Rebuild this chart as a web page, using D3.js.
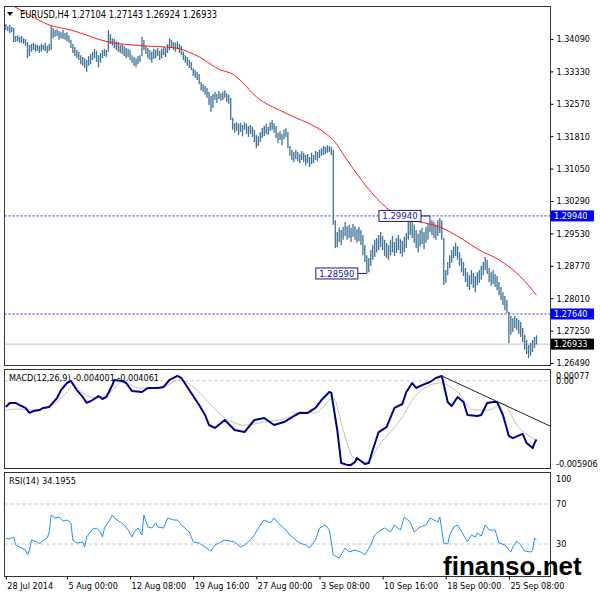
<!DOCTYPE html>
<html>
<head>
<meta charset="utf-8">
<script src="https://cdn.jsdelivr.net/npm/d3@7"></script>
<style>
body{margin:0;background:#fff;}
svg{display:block;font-family:"DejaVu Sans Condensed","DejaVu Sans",sans-serif;}
</style>
</head>
<body>
<svg id="chart" width="600" height="597"></svg>
<script>

// EURUSD H4 bars, one entry per bar (28 Jul 20:00 .. 29 Sep)
const barHigh = [
1.3444,1.3439,1.3442,1.3437,1.3435,1.3416,1.3418,1.3414,1.3416,1.3411,
1.3409,1.3402,1.3395,1.3397,1.3400,1.3397,1.3395,1.3393,1.3397,1.3395,
1.3400,1.3393,1.3397,1.3442,1.3435,1.3430,1.3432,1.3428,1.3425,1.3430,
1.3423,1.3425,1.3418,1.3407,1.3397,1.3390,1.3383,1.3379,1.3371,1.3367,
1.3364,1.3360,1.3369,1.3374,1.3379,1.3386,1.3381,1.3371,1.3376,1.3383,
1.3386,1.3383,1.3430,1.3421,1.3411,1.3409,1.3404,1.3402,1.3395,1.3397,
1.3393,1.3388,1.3386,1.3383,1.3371,1.3367,1.3364,1.3369,1.3371,1.3414,
1.3407,1.3393,1.3388,1.3383,1.3379,1.3386,1.3383,1.3388,1.3381,1.3386,
1.3390,1.3388,1.3397,1.3411,1.3407,1.3402,1.3400,1.3404,1.3397,1.3393,
1.3379,1.3371,1.3367,1.3360,1.3355,1.3341,1.3336,1.3332,1.3327,1.3308,
1.3303,1.3299,1.3294,1.3285,1.3275,1.3280,1.3285,1.3280,1.3287,1.3282,
1.3285,1.3289,1.3282,1.3278,1.3271,1.3224,1.3212,1.3214,1.3210,1.3212,
1.3207,1.3214,1.3210,1.3205,1.3207,1.3203,1.3196,1.3184,1.3181,1.3191,
1.3200,1.3205,1.3210,1.3203,1.3214,1.3219,1.3212,1.3205,1.3189,1.3193,
1.3186,1.3196,1.3200,1.3191,1.3158,1.3149,1.3144,1.3149,1.3144,1.3139,
1.3146,1.3142,1.3137,1.3139,1.3132,1.3142,1.3137,1.3146,1.3144,1.3149,
1.3153,1.3158,1.3156,1.3160,1.3158,1.3156,1.3149,1.2984,1.2956,1.2966,
1.2961,1.2968,1.2980,1.2970,1.2973,1.2966,1.2975,1.2970,1.2963,1.2968,
1.2961,1.2949,1.2926,1.2902,1.2895,1.2914,1.2926,1.2938,1.2942,1.2949,
1.2956,1.2947,1.2938,1.2931,1.2926,1.2938,1.2947,1.2933,1.2942,1.2949,
1.2940,1.2935,1.2945,1.2954,1.2980,1.2991,1.2984,1.2973,1.2961,1.2952,
1.2961,1.2966,1.2956,1.2968,1.2975,1.2994,1.2984,1.2980,1.2973,1.2984,
1.2989,1.2984,1.2942,1.2867,1.2886,1.2902,1.2914,1.2923,1.2931,1.2923,
1.2909,1.2895,1.2886,1.2872,1.2862,1.2855,1.2867,1.2860,1.2853,1.2862,
1.2867,1.2877,1.2886,1.2898,1.2891,1.2872,1.2862,1.2867,1.2858,1.2853,
1.2839,1.2827,1.2815,1.2806,1.2797,1.2769,1.2759,1.2754,1.2759,1.2754,
1.2750,1.2745,1.2731,1.2715,1.2703,1.2691,1.2696,1.2703,1.2710,1.27143
];
const barLow = [
1.3430,1.3428,1.3423,1.3425,1.3402,1.3402,1.3404,1.3400,1.3400,1.3397,
1.3393,1.3364,1.3369,1.3379,1.3383,1.3379,1.3381,1.3376,1.3379,1.3383,
1.3381,1.3376,1.3381,1.3383,1.3411,1.3414,1.3416,1.3407,1.3411,1.3409,
1.3407,1.3404,1.3400,1.3388,1.3376,1.3369,1.3364,1.3360,1.3350,1.3346,
1.3341,1.3332,1.3346,1.3350,1.3360,1.3364,1.3355,1.3343,1.3353,1.3364,
1.3369,1.3367,1.3379,1.3397,1.3393,1.3388,1.3383,1.3379,1.3376,1.3374,
1.3369,1.3364,1.3367,1.3360,1.3353,1.3346,1.3343,1.3350,1.3355,1.3369,
1.3383,1.3374,1.3364,1.3360,1.3353,1.3362,1.3364,1.3369,1.3360,1.3364,
1.3371,1.3367,1.3376,1.3383,1.3388,1.3383,1.3379,1.3386,1.3376,1.3371,
1.3360,1.3353,1.3346,1.3341,1.3336,1.3322,1.3318,1.3313,1.3303,1.3289,
1.3285,1.3278,1.3271,1.3254,1.3238,1.3247,1.3266,1.3259,1.3268,1.3264,
1.3266,1.3271,1.3261,1.3257,1.3219,1.3196,1.3189,1.3193,1.3184,1.3191,
1.3181,1.3196,1.3186,1.3179,1.3186,1.3179,1.3167,1.3153,1.3158,1.3167,
1.3177,1.3181,1.3186,1.3184,1.3193,1.3196,1.3189,1.3177,1.3165,1.3172,
1.3160,1.3174,1.3179,1.3153,1.3135,1.3125,1.3120,1.3127,1.3123,1.3118,
1.3125,1.3120,1.3113,1.3118,1.3109,1.3116,1.3118,1.3125,1.3123,1.3130,
1.3135,1.3137,1.3139,1.3142,1.3144,1.3137,1.2973,1.2919,1.2921,1.2933,
1.2926,1.2938,1.2947,1.2938,1.2942,1.2933,1.2945,1.2938,1.2931,1.2935,
1.2926,1.2902,1.2886,1.2859,1.2862,1.2877,1.2891,1.2898,1.2909,1.2914,
1.2921,1.2914,1.2900,1.2895,1.2891,1.2902,1.2909,1.2900,1.2907,1.2914,
1.2905,1.2898,1.2909,1.2919,1.2938,1.2949,1.2942,1.2931,1.2919,1.2909,
1.2923,1.2928,1.2916,1.2931,1.2938,1.2956,1.2949,1.2942,1.2938,1.2947,
1.2954,1.2938,1.2832,1.2837,1.2855,1.2872,1.2884,1.2895,1.2900,1.2891,
1.2877,1.2862,1.2853,1.2839,1.2827,1.2820,1.2834,1.2825,1.2815,1.2832,
1.2837,1.2844,1.2855,1.2867,1.2858,1.2839,1.2830,1.2834,1.2827,1.2820,
1.2808,1.2797,1.2785,1.2773,1.2766,1.2696,1.2715,1.2722,1.2731,1.2726,
1.2717,1.2710,1.2698,1.2680,1.2670,1.2661,1.2666,1.2675,1.2684,1.26924
];

// moving average (red)
const maBars = [0,4,12,22,33,52,70,86,98,109,114,129,142,163,166,173,183,193,206,220,232,240,250,261,269];
const maValues = [1.3497,1.3486,1.3465,1.3442,1.3430,1.3402,1.3393,1.3388,1.3367,1.3336,1.3329,1.3266,1.3235,
  1.3184,1.3172,1.3125,1.3062,1.3013,1.2985,1.2968,1.2938,1.2914,1.2891,1.2851,1.2808];

// MACD(12,26,9)
const macdBars = [0,2,5,7,10,12,14,17,19,22, 26,28,31,33,36,39,41,44,47,49,
  51,54,55,59,61,64,69,72,77,80, 83,87,89,93,98,101,103,106,111,116,
  121,126,131,136,141,147,149,153,157,160, 164,165,168,170,173,175,177,178,180,182,
  184,186,189,193,197,201,203,206,208,211, 215,218,221,224,226,229,232,234,239,241,
  244,247,249,252,255,257,262,264,267,268, 269];
const macdMain = [-0.00178,-0.00151,-0.00151,-0.00165,-0.00185,-0.00219,-0.00206,-0.00199,-0.00185,-0.00178,
  -0.00117,-0.00063,-0.00015,-0.00001,-0.00063,-0.00110,-0.00151,-0.00131,-0.00104,-0.00124,
  -0.00110,-0.00029,0.00006,-0.00001,-0.00015,-0.00070,-0.00076,-0.00049,-0.00049,-0.00042,
  0.00006,0.00033,0.00019,-0.00063,-0.00165,-0.00233,-0.00301,-0.00321,-0.00267,-0.00335,
  -0.00349,-0.00267,-0.00253,-0.00301,-0.00281,-0.00233,-0.00219,-0.00219,-0.00185,-0.00131,
  -0.00076,-0.00083,-0.00335,-0.00560,-0.00573,-0.00573,-0.00553,-0.00526,-0.00546,-0.00567,
  -0.00560,-0.00471,-0.00349,-0.00315,-0.00185,-0.00158,-0.00076,-0.00015,-0.00049,-0.00029,
  -0.00008,0.00019,0.00033,-0.00144,-0.00172,-0.00110,-0.00144,-0.00233,-0.00240,-0.00233,
  -0.00151,-0.00144,-0.00144,-0.00233,-0.00376,-0.00390,-0.00362,-0.00424,-0.00458,-0.00424,
  -0.004001];
const signalBars = [0,7,14,22,31,34,39,46,53,59, 68,78,88,95,104,111,121,131,144,149,
  157,166,171,176,183,190,200,208,220,229, 237,245,252,259,269];
const signalValues = [-0.00199,-0.00192,-0.00199,-0.00178,-0.00076,-0.00029,-0.00083,-0.00117,-0.00076,-0.00008,
  -0.00049,-0.00049,0.00006,-0.00042,-0.00165,-0.00253,-0.00301,-0.00281,-0.00246,-0.00212,
  -0.00219,-0.00117,-0.00335,-0.00519,-0.00553,-0.00424,-0.00267,-0.00097,-0.00015,-0.00076,
  -0.00199,-0.00199,-0.00151,-0.00301,-0.004061];
// trend line drawn on the MACD window
const trendBars = [221, 275.8];
const trendValues = [0.00033, -0.00308];

// RSI(14)
const rsiBars = [0,2,4,5,7,10,11,12,13,16, 17,19,21,22,23,25,27,29,31,33,
  34,36,39,40,41,44,46,48,49,50, 52,54,55,58,60,62,64,65,67,69,
  70,72,74,76,77,80,82,85,87,89, 92,93,95,98,101,104,106,111,116,119,
  121,124,126,129,131,134,136,139,142,144, 147,149,152,154,157,159,162,164,166,169,
  172,174,177,180,182,185,187,190,192,195, 197,200,202,205,207,210,213,215,217,219,
  220,222,224,225,227,229,230,232,234,236, 238,239,241,243,245,248,250,253,256,257,
  259,261,263,266,267,268,269];
const rsiValues = [36,35,37,29,27,24,19,24,34,32, 30,34,36,42,59,56,57,53,54,51,
  34,31,32,27,37,45,46,42,37,46, 52,59,56,52,49,44,37,42,46,39,
  59,47,46,51,47,46,56,54,54,49, 44,42,32,31,27,23,29,34,32,27,
  29,34,39,49,54,51,56,49,44,39, 34,31,29,26,34,46,49,44,19,16,
  26,22,24,22,19,29,39,44,46,42, 49,44,57,52,42,47,49,56,54,52,
  57,31,30,39,47,49,46,39,32,39, 37,41,38,49,44,44,31,29,22,27,
  33,29,23,22,23,36,34.2];

const priceTicks = [1.3409,1.3333,1.3257,1.3181,1.3105,1.3029,1.2953,1.2877,1.2801,1.2725,1.2649];
const levelPrices = [1.2994, 1.2764];
const lastPrice = 1.26933;
const markBars = [215, 183];
const markPrices = [1.2994, 1.2859];
const timeBars = [0,31,63,95,127,159,191,223,255];
const timeLabels = ["28 Jul 2014","5 Aug 00:00","12 Aug 08:00","19 Aug 16:00","27 Aug 00:00",
  "3 Sep 08:00","10 Sep 16:00","18 Sep 00:00","25 Sep 08:00"];
const rsiLevels = [70, 30];

const svg = d3.select("#chart");
const left = 4.5, right = 550.5;
const mainP = {top: 6.5, bottom: 365.5};
const macdP = {top: 369.5, bottom: 468.5};
const rsiP = {top: 472.5, bottom: 576.5};

const x = d3.scaleLinear().domain([0, 269]).range([5.8, 536.5]);
const y = d3.scaleLinear().domain([1.26443, 1.34864]).range([365, 6]);
const yM = d3.scaleLinear().domain([-0.005906, 0.00077]).range([467.5, 369.5]);
const yR = d3.scaleLinear().domain([0, 100]).range([574, 474]);

// clip paths
const defs = svg.append("defs");
[["cMain", mainP], ["cMacd", macdP], ["cRsi", rsiP]].forEach(([id, p]) => {
    defs.append("clipPath").attr("id", id)
        .append("rect")
        .attr("x", left).attr("y", p.top)
        .attr("width", right - left).attr("height", p.bottom - p.top);
});

// panel frames
[mainP, macdP, rsiP].forEach(p => {
    svg.append("rect")
        .attr("x", left).attr("y", p.top)
        .attr("width", right - left).attr("height", p.bottom - p.top)
        .attr("fill", "#fff")
        .attr("stroke", "#333")
        .attr("stroke-width", 1);
});

// ---------- main window ----------
const gMain = svg.append("g").attr("clip-path", "url(#cMain)");

gMain.append("line")
    .attr("x1", left).attr("x2", right)
    .attr("y1", y(lastPrice)).attr("y2", y(lastPrice))
    .attr("stroke", "#c0c0c0");

gMain.selectAll(".level")
    .data(levelPrices)
    .enter()
    .append("line")
    .attr("x1", left).attr("x2", right)
    .attr("y1", d => y(d)).attr("y2", d => y(d))
    .attr("stroke", "#2a2aff")
    .attr("stroke-dasharray", "2,2");

gMain.selectAll(".bar")
    .data(barHigh)
    .enter()
    .append("line")
    .attr("x1", (d, i) => x(i)).attr("x2", (d, i) => x(i))
    .attr("y1", d => y(d))
    .attr("y2", (d, i) => y(barLow[i]))
    .attr("stroke", "#44769a")
    .attr("stroke-width", 1.35);

gMain.append("path")
    .datum(maBars.map((b, i) => [b, maValues[i]]))
    .attr("fill", "none")
    .attr("stroke", "#ff1a1a")
    .attr("stroke-width", 1)
    .attr("d", d3.line().x(d => x(d[0])).y(d => y(d[1])).curve(d3.curveMonotoneX));

// price marks with boxes
markBars.forEach((b, i) => {
    const bx = x(b), by = y(markPrices[i]);
    gMain.append("line")
        .attr("x1", bx - 9).attr("x2", bx)
        .attr("y1", by).attr("y2", by)
        .attr("stroke", "#1a1a80");
    gMain.append("rect")
        .attr("x", bx - 51).attr("y", by - 5.5)
        .attr("width", 42).attr("height", 11)
        .attr("fill", "#fff")
        .attr("stroke", "#1a1a80");
    gMain.append("text")
        .attr("x", bx - 30).attr("y", by)
        .attr("dy", "0.36em")
        .attr("text-anchor", "middle")
        .attr("font-size", 9.5)
        .attr("fill", "#1a1a80")
        .text(d3.format(".5f")(markPrices[i]));
});

// header
svg.append("path")
    .attr("d", "M7,12 L13,12 L10,16 Z")
    .attr("fill", "#000");
svg.append("text")
    .attr("x", 20).attr("y", 14.5)
    .attr("dy", "0.35em")
    .attr("font-size", 10)
    .attr("textLength", 197)
    .attr("lengthAdjust", "spacingAndGlyphs")
    .text("EURUSD,H4  1.27104 1.27143 1.26924 1.26933");

// price axis
svg.append("g")
    .attr("transform", `translate(${right},0)`)
    .call(d3.axisRight(y).tickValues(priceTicks).tickSize(3).tickPadding(3).tickFormat(d3.format(".5f")))
    .call(g => g.select(".domain").remove())
    .call(g => g.selectAll("text").attr("font-size", 9).attr("font-family", null).attr("fill", "#000"))
    .call(g => g.attr("font-family", null));

// level tags
levelPrices.forEach(p => {
    svg.append("rect")
        .attr("x", 551).attr("y", y(p) - 5.5)
        .attr("width", 43).attr("height", 11)
        .attr("fill", "#0000ff");
    svg.append("text")
        .attr("x", 554).attr("y", y(p)).attr("dy", "0.36em")
        .attr("font-size", 9).attr("fill", "#fff")
        .text(d3.format(".5f")(p));
});
svg.append("rect")
    .attr("x", 551).attr("y", y(lastPrice) - 5.5)
    .attr("width", 43).attr("height", 11)
    .attr("fill", "#000");
svg.append("text")
    .attr("x", 554).attr("y", y(lastPrice)).attr("dy", "0.36em")
    .attr("font-size", 9).attr("fill", "#fff")
    .text(d3.format(".5f")(lastPrice));

// ---------- MACD window ----------
const gMacd = svg.append("g").attr("clip-path", "url(#cMacd)");

gMacd.append("line")
    .attr("x1", left).attr("x2", right)
    .attr("y1", yM(0)).attr("y2", yM(0))
    .attr("stroke", "#c0c0c0")
    .attr("stroke-dasharray", "3,3");

gMacd.append("path")
    .datum(signalBars.map((b, i) => [b, signalValues[i]]))
    .attr("fill", "none")
    .attr("stroke", "#c0c0c0")
    .attr("stroke-width", 1)
    .attr("d", d3.line().x(d => x(d[0])).y(d => yM(d[1])).curve(d3.curveMonotoneX));

gMacd.append("path")
    .datum(macdBars.map((b, i) => [b, macdMain[i]]))
    .attr("fill", "none")
    .attr("stroke", "#00008b")
    .attr("stroke-width", 2)
    .attr("stroke-linejoin", "round")
    .attr("d", d3.line().x(d => x(d[0])).y(d => yM(d[1])));

gMacd.append("line")
    .attr("x1", x(trendBars[0])).attr("x2", x(trendBars[1]))
    .attr("y1", yM(trendValues[0])).attr("y2", yM(trendValues[1]))
    .attr("stroke", "#222")
    .attr("stroke-width", 1);

svg.append("text")
    .attr("x", 9).attr("y", 378).attr("dy", "0.35em")
    .attr("font-size", 9.5)
    .attr("textLength", 150)
    .attr("lengthAdjust", "spacingAndGlyphs")
    .text("MACD(12,26,9) -0.004001 -0.004061");

// the two top labels sit on top of each other in the original
const macdLabels = [[375.5, "0.00077"], [yM(0), "0.00"], [464, "-0.005906"]];
macdLabels.forEach(([ly, t]) => {
    svg.append("text")
        .attr("x", 556).attr("y", ly).attr("dy", "0.35em")
        .attr("font-size", 9)
        .text(t);
});

// ---------- RSI window ----------
const gRsi = svg.append("g").attr("clip-path", "url(#cRsi)");

gRsi.selectAll(".lvl")
    .data(rsiLevels)
    .enter()
    .append("line")
    .attr("x1", left).attr("x2", right)
    .attr("y1", d => yR(d)).attr("y2", d => yR(d))
    .attr("stroke", "#c0c0c0")
    .attr("stroke-dasharray", "3,3");

gRsi.append("path")
    .datum(rsiBars.map((b, i) => [b, rsiValues[i]]))
    .attr("fill", "none")
    .attr("stroke", "#1e90ff")
    .attr("stroke-width", 1)
    .attr("d", d3.line().x(d => x(d[0])).y(d => yR(d[1])));

svg.append("text")
    .attr("x", 9).attr("y", 481).attr("dy", "0.35em")
    .attr("font-size", 9.5)
    .attr("textLength", 67)
    .attr("lengthAdjust", "spacingAndGlyphs")
    .text("RSI(14) 34.1955");

[[479, "100"], [yR(70), "70"], [yR(30), "30"]].forEach(([ly, t]) => {
    svg.append("text")
        .attr("x", 556).attr("y", ly).attr("dy", "0.35em")
        .attr("font-size", 9)
        .text(t);
});

// ---------- time axis ----------
svg.append("g")
    .attr("transform", `translate(0,${rsiP.bottom})`)
    .call(d3.axisBottom(x).tickValues(timeBars).tickSize(3).tickPadding(3)
        .tickFormat((d, i) => timeLabels[i]))
    .call(g => g.select(".domain").remove())
    .call(g => g.attr("font-family", null))
    .call(g => g.selectAll("text")
        .attr("text-anchor", "start")
        .attr("dx", 1)
        .attr("font-size", 9)
        .attr("fill", "#000"));

// watermark
svg.append("text")
    .attr("x", 443).attr("y", 575)
    .attr("font-family", "'Liberation Sans', Arial, sans-serif")
    .attr("font-weight", "bold")
    .attr("font-size", 26)
    .attr("fill", "#000")
    .text("finanso.net");

</script>
</body>
</html>
